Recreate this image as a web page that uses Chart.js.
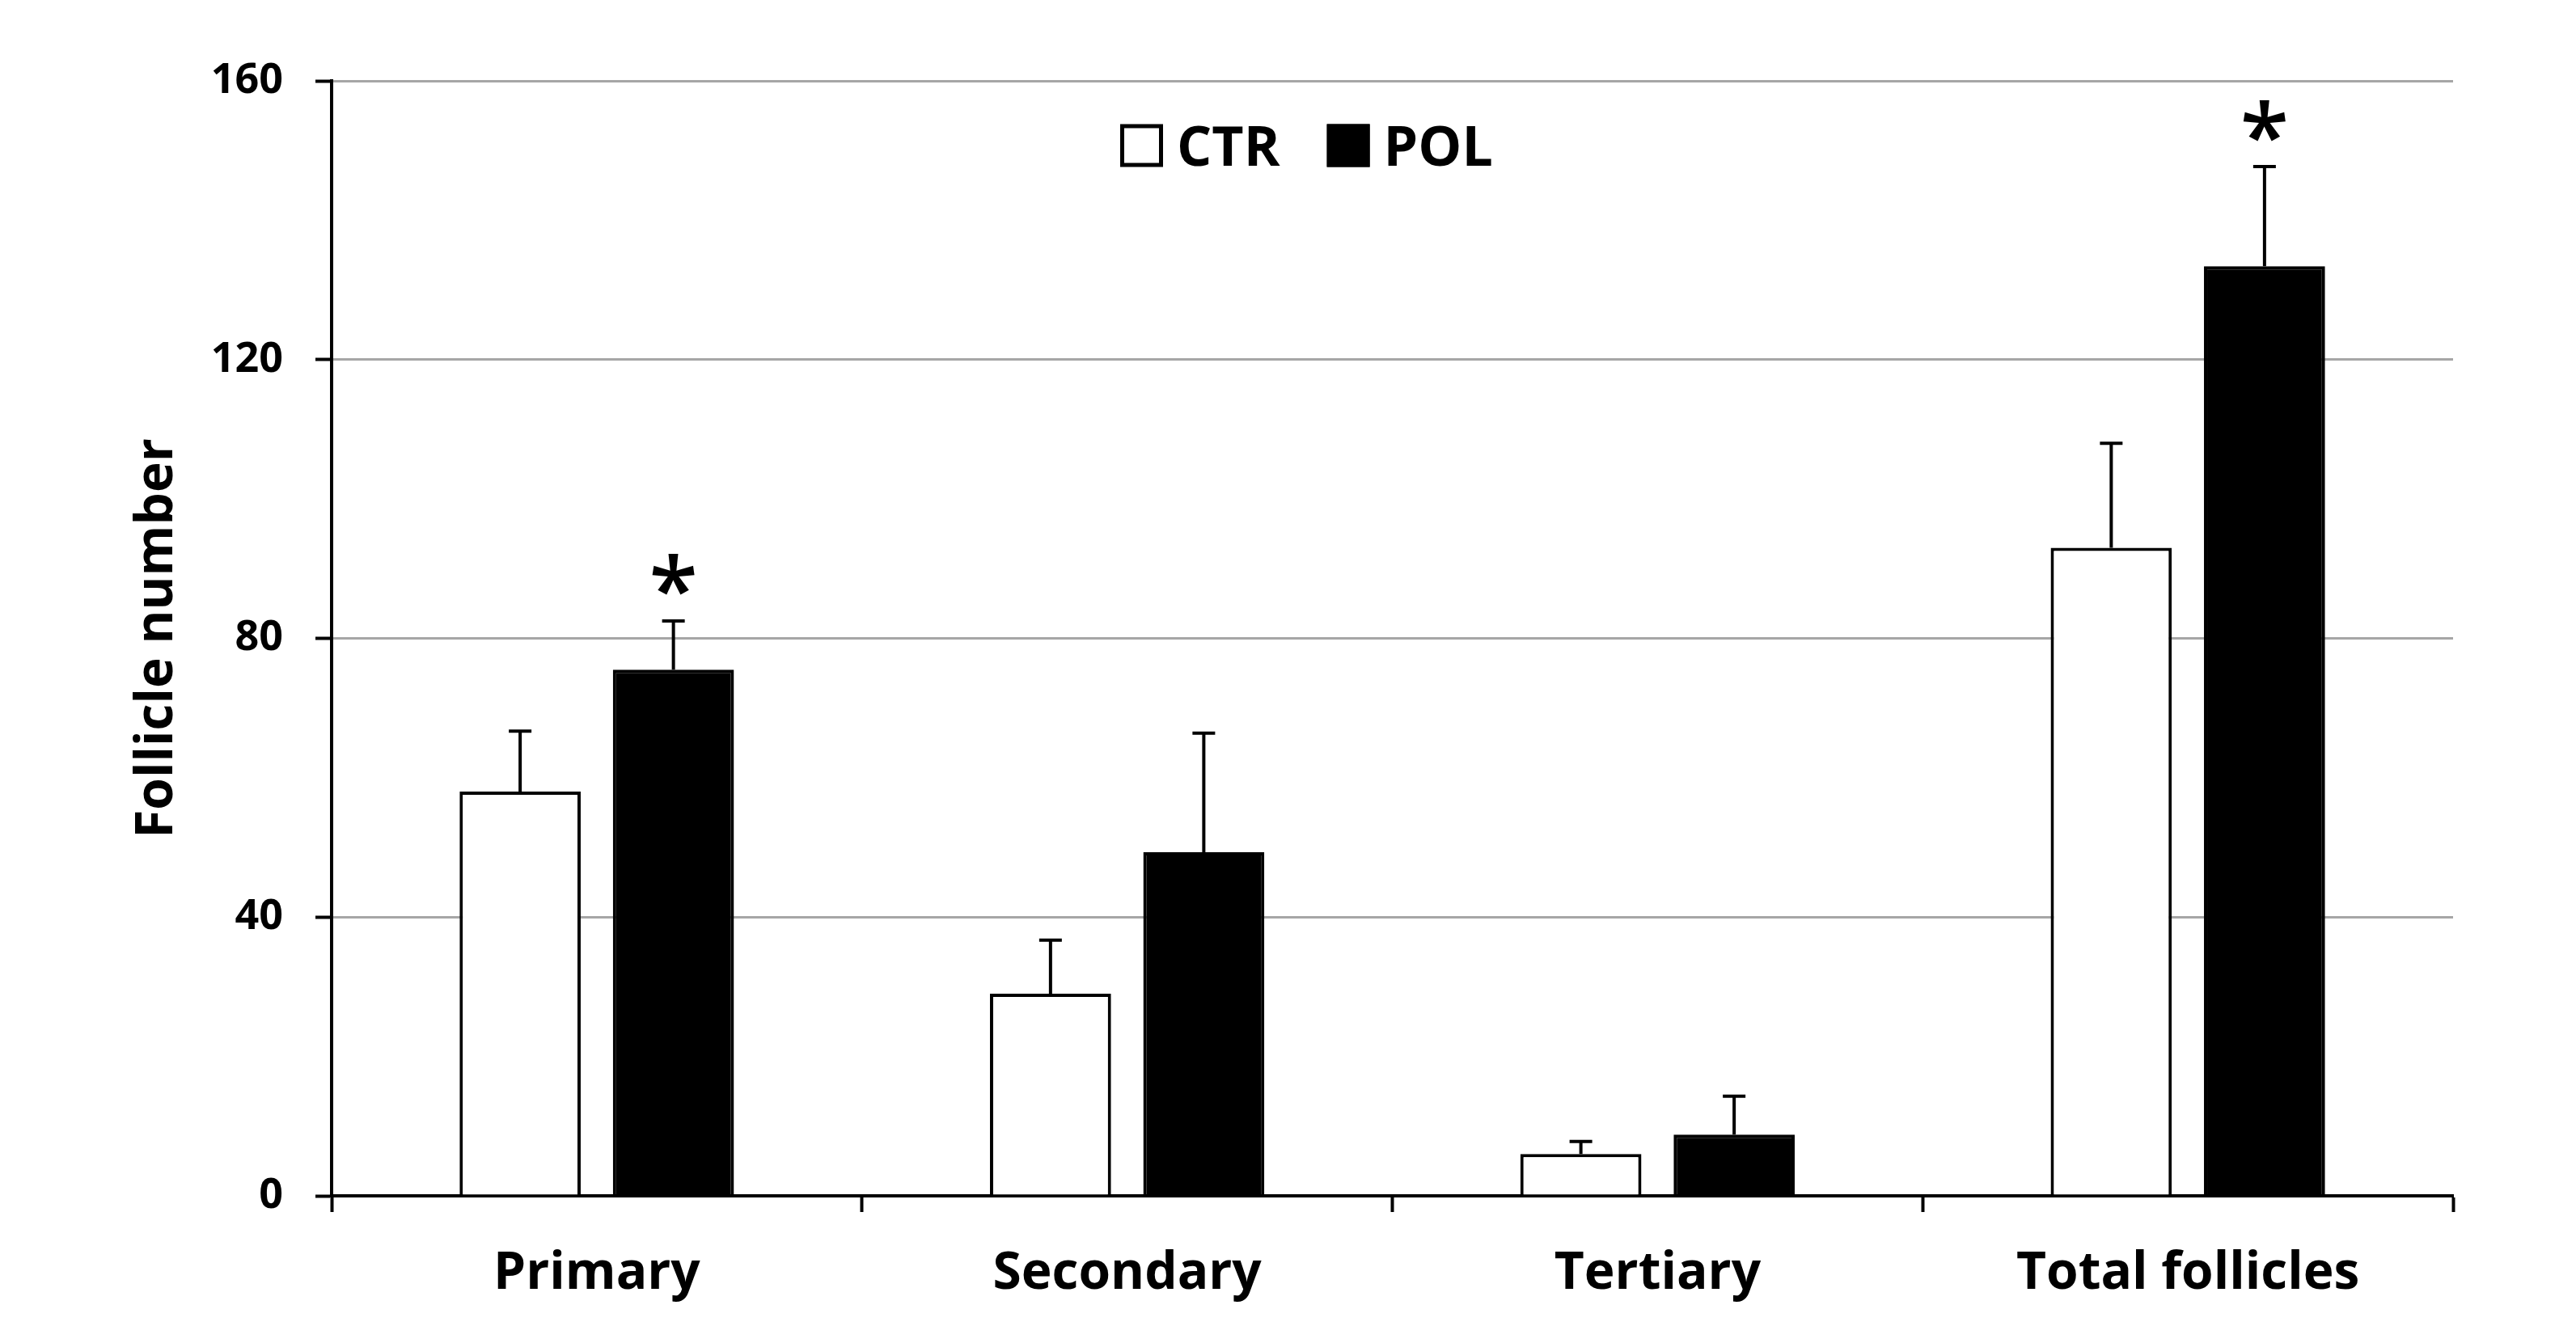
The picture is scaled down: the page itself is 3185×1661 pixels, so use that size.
<!DOCTYPE html>
<html>
<head>
<meta charset="utf-8">
<script src="https://cdn.jsdelivr.net/npm/chart.js@4.4.1/dist/chart.umd.min.js"></script>
<style>
    html, body { margin: 0; padding: 0; background: #fff; }
    .wrap { width: 3185px; height: 1661px; position: relative; }
</style>
</head>
<body>
<div class="wrap"><canvas id="follicleChart"></canvas></div>
<script>
const categories = ['Primary', 'Secondary', 'Tertiary', 'Total follicles'];
const ctrMeans = [58, 29, 6, 93];
const ctrErrors = [8.7, 7.7, 1.8, 15];
const polMeans = [75.5, 49.3, 8.8, 133.4];
const polErrors = [7, 17.1, 5.5, 14.3];
const polSignificant = [true, false, false, true];
const yTicks = [0, 40, 80, 120, 160];

const fontFamily = "'Open Sans', 'Liberation Sans', sans-serif";

// upper-only whiskers plus the significance stars
const errorBars = {
    id: 'errorBars',
    afterDatasetsDraw(chart) {
        const { ctx, scales: { y } } = chart;
        chart.data.datasets.forEach((ds, di) => {
            const meta = chart.getDatasetMeta(di);
            meta.data.forEach((bar, i) => {
                const top = y.getPixelForValue(ds.data[i] + ds.errors[i]);
                const base = y.getPixelForValue(ds.data[i]);
                ctx.save();
                ctx.strokeStyle = '#000';
                ctx.lineWidth = 4;
                ctx.beginPath();
                ctx.moveTo(bar.x, base);
                ctx.lineTo(bar.x, top);
                ctx.moveTo(bar.x - 14, top);
                ctx.lineTo(bar.x + 14, top);
                ctx.stroke();
                if (ds.significant && ds.significant[i]) {
                    ctx.fillStyle = '#000';
                    ctx.font = `600 110px ${fontFamily}`;
                    ctx.textAlign = 'center';
                    ctx.textBaseline = 'alphabetic';
                    const m = ctx.measureText('*');
                    const cy = top - 57;
                    ctx.fillText('*', bar.x, cy + (m.actualBoundingBoxAscent - m.actualBoundingBoxDescent) / 2);
                }
                ctx.restore();
            });
        });
    }
};

// legend sits inside the plot, left of centre
const insideLegend = {
    id: 'insideLegend',
    afterDraw(chart) {
        const { ctx } = chart;
        let x = 1385;
        const cy = 180;
        const box = 53;
        ctx.save();
        ctx.font = `bold 68px ${fontFamily}`;
        ctx.textBaseline = 'alphabetic';
        ctx.textAlign = 'left';
        chart.data.datasets.forEach((ds) => {
            ctx.fillStyle = ds.backgroundColor;
            ctx.fillRect(x, cy - box / 2, box, box);
            ctx.strokeStyle = '#000';
            ctx.lineWidth = 5;
            ctx.strokeRect(x + 2.5, cy - box / 2 + 2.5, box - 5, box - 5);
            x += box + 17;
            const m = ctx.measureText(ds.label);
            ctx.fillStyle = '#000';
            ctx.fillText(ds.label, x, cy + (m.actualBoundingBoxAscent - m.actualBoundingBoxDescent) / 2);
            x += m.width + 58;
        });
        ctx.restore();
    }
};

new Chart(document.getElementById('follicleChart'), {
    type: 'bar',
    data: {
        labels: categories,
        datasets: [
            {
                label: 'CTR',
                data: ctrMeans,
                errors: ctrErrors,
                backgroundColor: '#ffffff',
                borderColor: '#000000',
                borderWidth: 4,
                categoryPercentage: 0.578,
                barPercentage: 0.79
            },
            {
                label: 'POL',
                data: polMeans,
                errors: polErrors,
                significant: polSignificant,
                backgroundColor: '#000000',
                borderColor: '#000000',
                borderWidth: 4,
                categoryPercentage: 0.578,
                barPercentage: 0.79
            }
        ]
    },
    options: {
        responsive: true,
        maintainAspectRatio: false,
        animation: false,
        devicePixelRatio: 1,
        layout: { padding: { top: 100, right: 152, bottom: 0, left: 0 } },
        plugins: {
            legend: { display: false },
            tooltip: { enabled: false }
        },
        scales: {
            x: {
                afterFit(scale) { scale.height = 182; },
                grid: {
                    offset: true,
                    drawOnChartArea: false,
                    drawTicks: true,
                    tickLength: 20,
                    tickWidth: 4,
                    tickColor: '#000',
                    color: '#000'
                },
                border: { display: true, color: '#000', width: 4 },
                ticks: {
                    color: '#000',
                    padding: 38,
                    font: { family: fontFamily, size: 64, weight: 'bold' }
                }
            },
            y: {
                min: 0,
                max: 160,
                afterFit(scale) { scale.width = 410; },
                afterBuildTicks(scale) { scale.ticks = yTicks.map((v) => ({ value: v })); },
                grid: {
                    color: '#a6a6a6',
                    lineWidth: 3,
                    tickColor: '#000',
                    tickLength: 20,
                    tickWidth: 4
                },
                border: { display: true, color: '#000', width: 4 },
                ticks: {
                    color: '#000',
                    padding: 40,
                    font: { family: fontFamily, size: 52, weight: 'bold' }
                },
                title: {
                    display: true,
                    text: 'Follicle number',
                    color: '#000',
                    padding: { top: 156, bottom: 0 },
                    font: { family: fontFamily, size: 64, weight: 'bold' }
                }
            }
        }
    },
    plugins: [errorBars, insideLegend]
});
</script>
</body>
</html>
